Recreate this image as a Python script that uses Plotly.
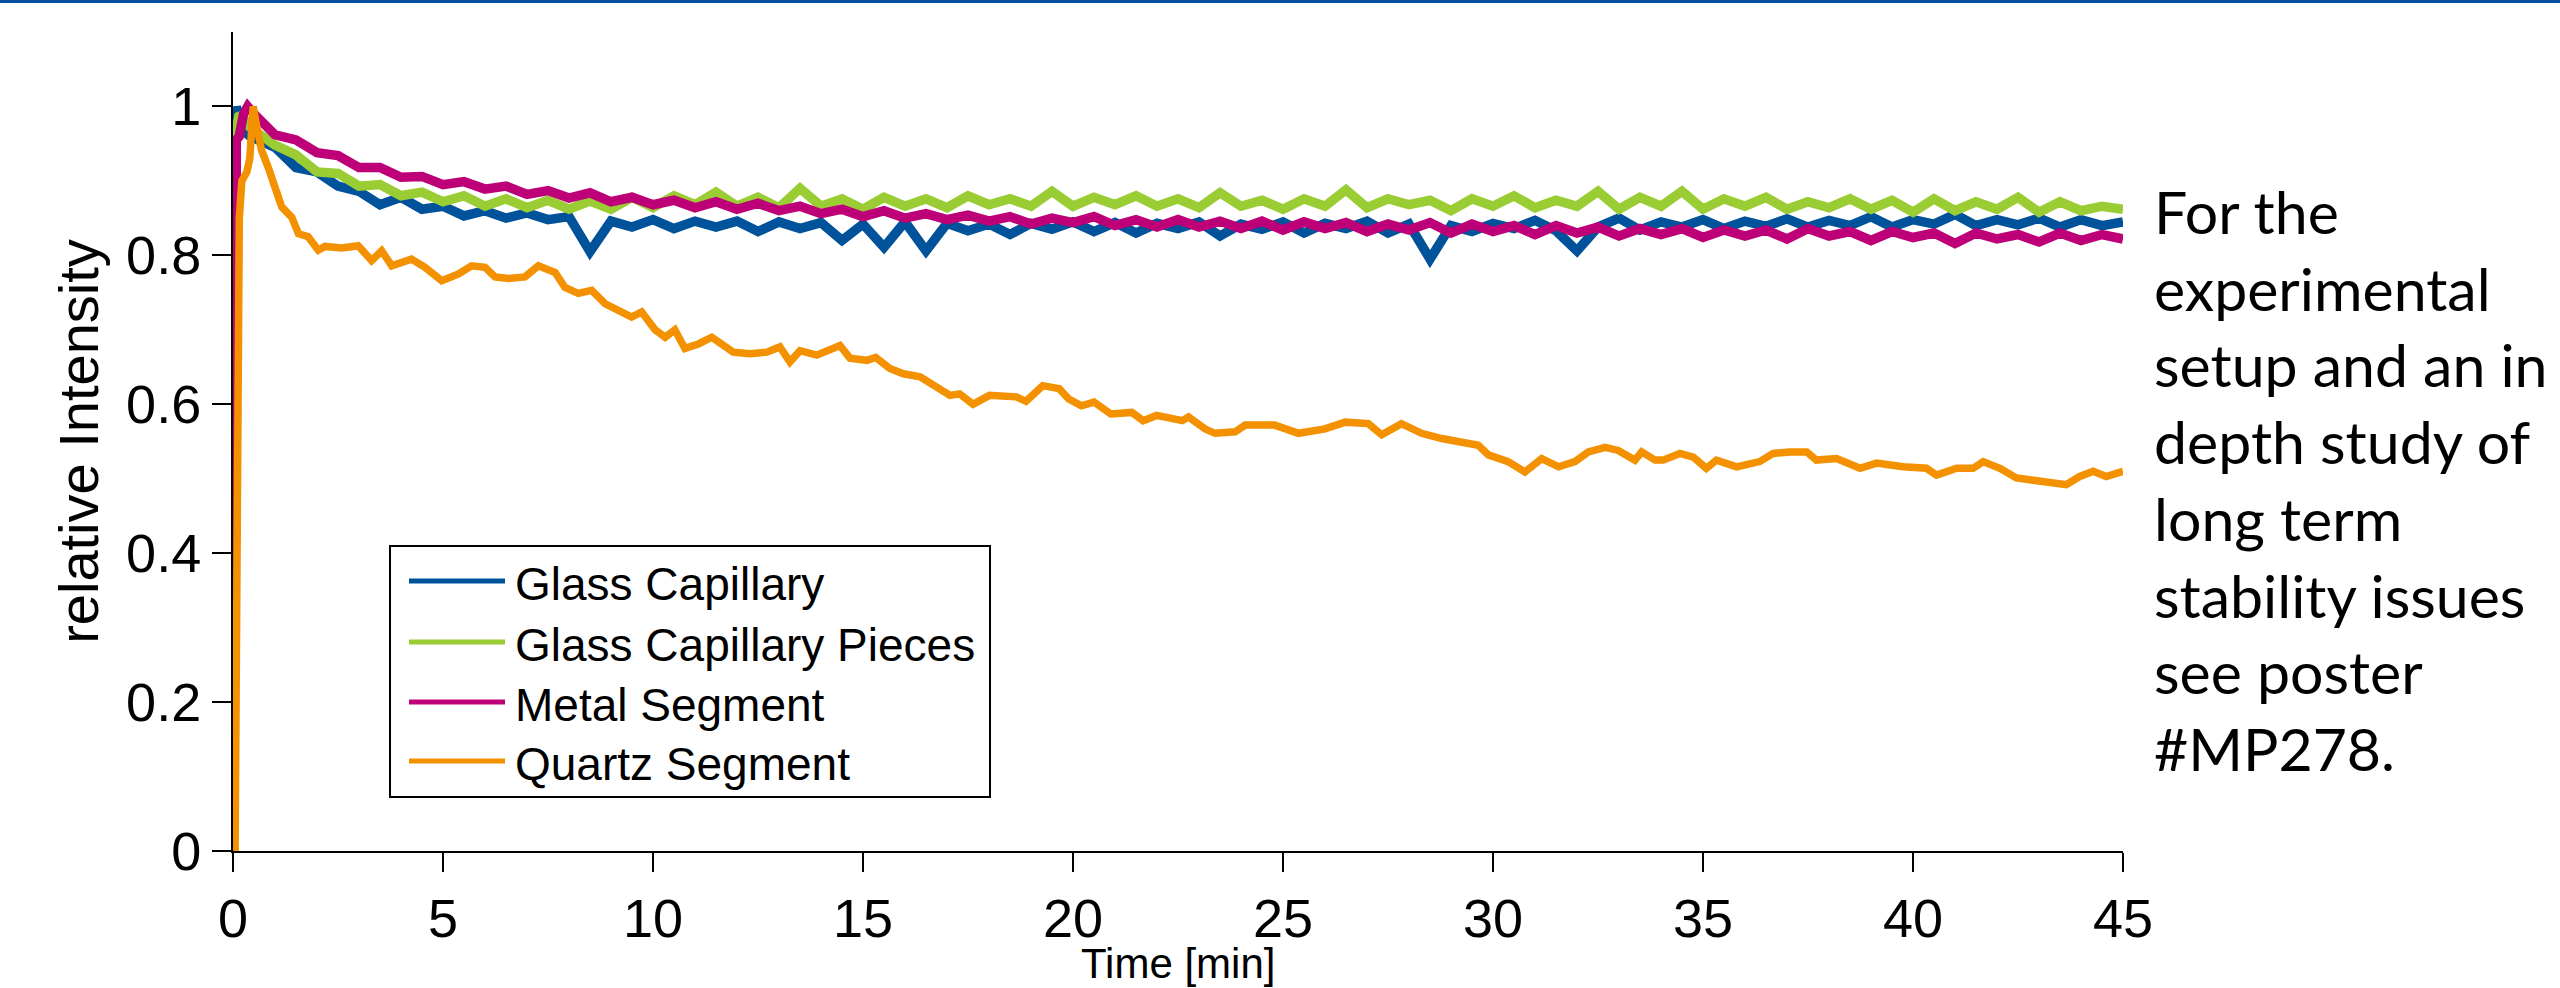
import plotly.graph_objects as go

# ---------------- data ----------------
step_times = [0.5 + 0.5 * i for i in range(90)]  # 0.5 ... 45.0 min

glass_cap_t0 = [0.0, 0.03, 0.08, 0.12, 0.2, 0.3, 0.4]
glass_cap_v0 = [0.0, 0.93, 1.0, 0.99, 0.975, 0.965, 0.96]
glass_cap_v = [
    .958, .945, .918, .912, .893, .886, .868, .878, .862, .866,
    .853, .860, .850, .857, .848, .852, .805, .846, .838, .848,
    .836, .846, .838, .846, .832, .845, .836, .844, .820, .842,
    .811, .845, .806, .843, .833, .842, .828, .843, .835, .845,
    .832, .844, .830, .843, .836, .845, .826, .842, .835, .845,
    .830, .843, .836, .846, .830, .842, .795, .840, .832, .843,
    .836, .847, .833, .806, .838, .850, .834, .845, .838, .848,
    .836, .846, .839, .849, .838, .847, .840, .852, .838, .848,
    .842, .855, .840, .848, .841, .850, .838, .848, .840, .845,
]

pieces_t0 = [0.0, 0.03, 0.08, 0.15, 0.25, 0.35, 0.45]
pieces_v0 = [0.30, 0.92, 0.97, 0.99, 0.985, 0.975, 0.97]
pieces_v = [
    .968, .948, .935, .912, .910, .893, .895, .880, .885, .872,
    .880, .866, .876, .864, .874, .862, .873, .862, .878, .864,
    .880, .868, .885, .866, .878, .864, .890, .866, .876, .862,
    .878, .866, .876, .864, .880, .868, .876, .866, .886, .866,
    .878, .868, .880, .866, .876, .864, .884, .866, .874, .862,
    .876, .866, .888, .864, .876, .868, .874, .860, .876, .866,
    .880, .864, .874, .866, .886, .862, .878, .866, .886, .862,
    .876, .866, .878, .862, .872, .864, .876, .862, .874, .858,
    .876, .860, .872, .862, .878, .858, .872, .860, .866, .862,
]

metal_t0 = [0.0, 0.03, 0.08, 0.15, 0.25, 0.35, 0.45]
metal_v0 = [0.0, 0.93, 0.955, 0.96, 0.99, 1.0, 0.995]
metal_v = [
    .990, .962, .955, .938, .934, .918, .918, .905, .906, .895,
    .899, .889, .893, .882, .887, .877, .884, .872, .878, .868,
    .874, .864, .872, .862, .870, .860, .866, .856, .862, .852,
    .860, .850, .856, .848, .854, .846, .852, .842, .850, .844,
    .852, .840, .848, .838, .848, .838, .846, .836, .846, .834,
    .845, .836, .844, .832, .842, .834, .844, .830, .842, .832,
    .840, .828, .840, .830, .838, .826, .836, .828, .836, .824,
    .834, .826, .834, .822, .836, .826, .832, .820, .832, .824,
    .830, .816, .830, .822, .828, .818, .830, .820, .828, .822,
]

quartz_t = [
    0.05, 0.1, 0.15, 0.21, 0.33, 0.40, 0.48, 0.56, 0.68, 0.84,
    1.0, 1.16, 1.4, 1.56, 1.79, 2.03, 2.19, 2.59, 2.98, 3.3,
    3.54, 3.78, 4.25, 4.57, 4.97, 5.37, 5.68, 6.0, 6.24, 6.56,
    6.95, 7.27, 7.67, 7.9, 8.22, 8.54, 8.86, 9.17, 9.49, 9.73,
    10.05, 10.29, 10.52, 10.76, 11.08, 11.4, 11.71, 11.91, 12.3, 12.71,
    13.02, 13.26, 13.5, 13.9, 14.45, 14.69, 15.09, 15.3, 15.64, 15.96,
    16.36, 16.67, 17.07, 17.3, 17.62, 18.01, 18.65, 18.88, 19.28, 19.67,
    19.9, 20.2, 20.5, 20.9, 21.4, 21.67, 21.99, 22.6, 22.75, 23.14,
    23.38, 23.86, 24.1, 24.8, 25.37, 26.0, 26.48, 27.03, 27.35, 27.82,
    28.3, 28.78, 29.33, 29.65, 29.89, 30.36, 30.76, 31.16, 31.56, 31.95,
    32.27, 32.67, 32.98, 33.38, 33.54, 33.86, 34.05, 34.45, 34.77, 35.08,
    35.32, 35.8, 36.35, 36.67, 37.07, 37.47, 37.7, 38.18, 38.74, 39.13,
    39.77, 40.32, 40.56, 41.04, 41.43, 41.67, 42.07, 42.46, 42.86, 43.26,
    43.65, 43.97, 44.29, 44.6, 45.0,
]
quartz_v = [
    0.0, 0.45, 0.85, 0.90, 0.912, 0.93, 1.0, 0.975, 0.941, 0.918,
    0.892, 0.865, 0.851, 0.829, 0.825, 0.807, 0.812, 0.810, 0.813, 0.793,
    0.806, 0.786, 0.795, 0.784, 0.766, 0.775, 0.786, 0.784, 0.771, 0.769,
    0.771, 0.786, 0.777, 0.757, 0.749, 0.753, 0.735, 0.726, 0.717, 0.724,
    0.700, 0.690, 0.700, 0.675, 0.681, 0.690, 0.677, 0.670, 0.668, 0.670,
    0.677, 0.657, 0.672, 0.666, 0.679, 0.662, 0.659, 0.663, 0.648, 0.641,
    0.637, 0.625, 0.612, 0.614, 0.600, 0.612, 0.610, 0.604, 0.625, 0.621,
    0.607, 0.598, 0.603, 0.587, 0.589, 0.578, 0.585, 0.578, 0.583, 0.567,
    0.561, 0.563, 0.572, 0.572, 0.561, 0.567, 0.576, 0.574, 0.559, 0.574,
    0.561, 0.554, 0.547, 0.545, 0.532, 0.523, 0.509, 0.527, 0.516, 0.523,
    0.536, 0.542, 0.538, 0.525, 0.536, 0.525, 0.525, 0.534, 0.529, 0.514,
    0.525, 0.516, 0.523, 0.534, 0.536, 0.536, 0.525, 0.527, 0.514, 0.521,
    0.516, 0.514, 0.505, 0.514, 0.514, 0.523, 0.514, 0.501, 0.498, 0.496,
    0.492, 0.503, 0.510, 0.503, 0.510,
]

series_names = ["Glass Capillary", "Glass Capillary Pieces", "Metal Segment", "Quartz Segment"]
series_colors = ["#00529B", "#9ACC33", "#BE0078", "#F39100"]

x_ticks = [0, 5, 10, 15, 20, 25, 30, 35, 40, 45]
y_ticks = [0, 0.2, 0.4, 0.6, 0.8, 1]
y_ticktext = ["0", "0.2", "0.4", "0.6", "0.8", "1"]

x_title = "Time [min]"
y_title = "relative Intensity"
note_lines = ["For the", "experimental", "setup and an in", "depth study of",
              "long term", "stability issues", "see poster", "#MP278."]

# ---------------- figure ----------------
W, H = 2560, 988
L, R, T, B = 233, 437, 32, 137
PW, PH = W - L - R, H - T - B


def px(x):
    return (x - L) / PW


def py(y):
    return (H - B - y) / PH


xs = [glass_cap_t0 + step_times, pieces_t0 + step_times, metal_t0 + step_times, quartz_t]
ys = [glass_cap_v0 + glass_cap_v, pieces_v0 + pieces_v, metal_v0 + metal_v, quartz_v]
widths = [9.5, 9.5, 9.5, 7.5]

fig = go.Figure()
for name, col, xv, yv, w in zip(series_names, series_colors, xs, ys, widths):
    fig.add_trace(go.Scatter(x=xv, y=yv, mode="lines", name=name,
                             line=dict(color=col, width=w), showlegend=False))

font_axis = "Liberation Sans, Arial, sans-serif"

fig.update_layout(
    width=W, height=H,
    margin=dict(l=L, r=R, t=T, b=B, autoexpand=False),
    paper_bgcolor="white", plot_bgcolor="white",
    font=dict(family=font_axis, color="black"),
    xaxis=dict(range=[0, 45], tickvals=x_ticks, ticks="outside", ticklen=19,
               tickwidth=1.5, tickcolor="black", showline=True, linecolor="black",
               linewidth=2, showgrid=False, zeroline=False, automargin=False,
               tickfont=dict(size=54, family=font_axis)),
    yaxis=dict(range=[0, 1.1], tickvals=y_ticks, ticktext=y_ticktext, ticks="outside",
               ticklen=19, tickwidth=1.5, tickcolor="black", showline=True,
               linecolor="black", linewidth=2, showgrid=False, zeroline=False,
               automargin=False,
               tickfont=dict(size=54, family=font_axis),
               title=dict(text=y_title, font=dict(size=56, family=font_axis), standoff=10)),
)

# x-axis title, kept fully inside the figure just under the tick labels
fig.add_annotation(xref="paper", yref="paper", x=0.5, y=py(988),
                   text=x_title, showarrow=False, xanchor="center", yanchor="bottom",
                   borderpad=0,
                   font=dict(size=42, family=font_axis, color="black"))

# top blue band of the slide
fig.add_shape(type="rect", xref="paper", yref="paper",
              x0=px(0), x1=px(W), y0=py(3), y1=py(0),
              fillcolor="#0050A0", line=dict(width=0), layer="above")

# legend box (drawn manually to match the long line samples)
fig.add_shape(type="rect", xref="paper", yref="paper",
              x0=px(390), x1=px(990), y0=py(797), y1=py(546),
              fillcolor="white", line=dict(color="black", width=2))
legend_rows = [581, 642, 702, 761]
for name, col, yrow in zip(series_names, series_colors, legend_rows):
    fig.add_shape(type="line", xref="paper", yref="paper",
                  x0=px(409), x1=px(505), y0=py(yrow), y1=py(yrow),
                  line=dict(color=col, width=5))
    fig.add_annotation(xref="paper", yref="paper", x=px(513), y=py(yrow + 3),
                       text=name, showarrow=False, xanchor="left", yanchor="middle",
                       font=dict(size=46, family=font_axis, color="black"))

# side note
fig.add_annotation(xref="paper", yref="paper", x=px(2152), y=py(174),
                   text="<br>".join(note_lines), showarrow=False,
                   xanchor="left", yanchor="top", align="left",
                   font=dict(size=59, family="Lato, Carlito, Open Sans, sans-serif", color="black"))

fig.write_html("out.html")
